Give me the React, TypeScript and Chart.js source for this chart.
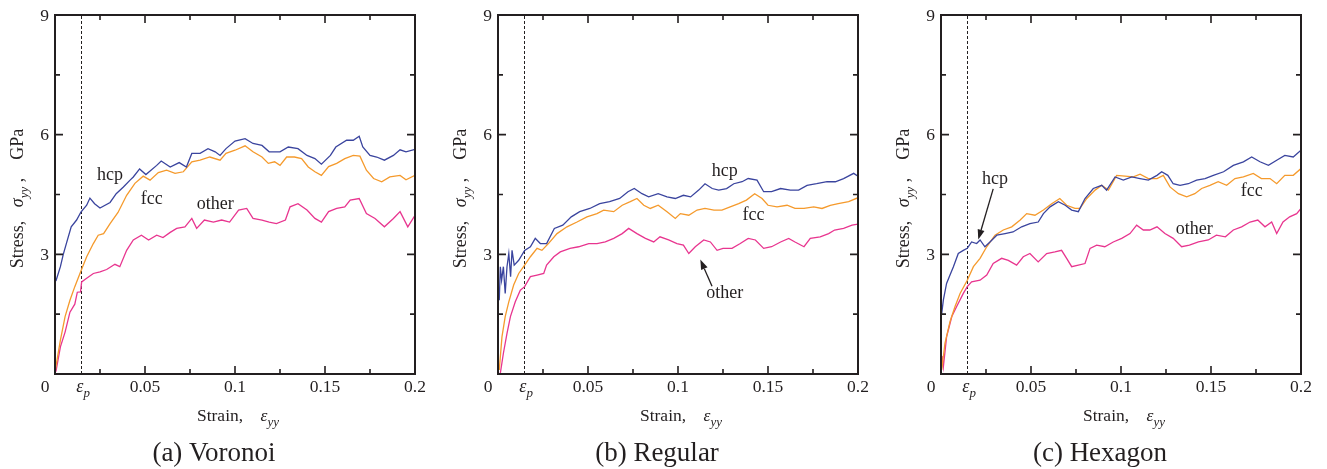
import React, { useEffect, useRef } from "react";
import { Chart, registerables } from "chart.js";
Chart.register(...registerables);

type P = [number, number];

// ---- axes / ticks ----
const xMajorTicks = [0.05, 0.1, 0.15, 0.2];
const xMajorLabels = ["0.05", "0.1", "0.15", "0.2"];
const xMinorTicks = [0.025, 0.075, 0.125, 0.175];
const yMajorTicks = [3, 6, 9];
const yMajorLabels = ["3", "6", "9"];
const yMinorTicks = [1.5, 4.5, 7.5];
const epsP = 0.0145;
const captions = ["(a) Voronoi", "(b) Regular", "(c) Hexagon"];
const seriesNames = ["hcp", "fcc", "other"];
const seriesColors = ["#3a449e", "#f59a2c", "#e8358f"];

// ---- (a) Voronoi ----
const voronoiHcp: P[] = [[0.0005,2.33],[0.003,2.69],[0.0046,3.0],[0.0065,3.3],[0.009,3.69],[0.012,3.86],[0.0144,4.06],[0.0176,4.23],[0.0194,4.41],[0.022,4.27],[0.025,4.16],[0.0306,4.3],[0.034,4.52],[0.038,4.69],[0.0417,4.86],[0.0435,4.94],[0.047,5.14],[0.0505,5.0],[0.0565,5.23],[0.059,5.34],[0.064,5.19],[0.069,5.3],[0.073,5.19],[0.076,5.53],[0.0806,5.53],[0.085,5.65],[0.089,5.57],[0.0917,5.48],[0.095,5.65],[0.100,5.84],[0.1056,5.9],[0.110,5.78],[0.115,5.73],[0.119,5.57],[0.125,5.57],[0.1296,5.69],[0.135,5.65],[0.140,5.48],[0.1444,5.4],[0.148,5.26],[0.153,5.48],[0.156,5.69],[0.162,5.86],[0.1657,5.86],[0.169,5.96],[0.171,5.69],[0.175,5.48],[0.1787,5.44],[0.183,5.36],[0.188,5.48],[0.1917,5.62],[0.195,5.57],[0.2,5.63]];
const voronoiFcc: P[] = [[0,0.05],[0.003,0.85],[0.0056,1.44],[0.0083,1.85],[0.011,2.19],[0.0144,2.58],[0.0176,2.94],[0.0213,3.27],[0.024,3.48],[0.027,3.52],[0.0306,3.77],[0.035,4.05],[0.0398,4.48],[0.0444,4.78],[0.049,4.96],[0.0528,4.86],[0.0574,5.05],[0.062,5.11],[0.0667,5.03],[0.0713,5.07],[0.076,5.32],[0.0806,5.36],[0.086,5.44],[0.0917,5.36],[0.095,5.53],[0.100,5.61],[0.1056,5.72],[0.110,5.57],[0.115,5.44],[0.1185,5.28],[0.122,5.32],[0.125,5.23],[0.1287,5.44],[0.133,5.44],[0.137,5.4],[0.1407,5.19],[0.1444,5.07],[0.148,4.98],[0.152,5.2],[0.1565,5.28],[0.161,5.4],[0.1657,5.48],[0.1694,5.46],[0.173,5.11],[0.177,4.9],[0.1815,4.82],[0.186,4.94],[0.1917,4.98],[0.195,4.87],[0.2,4.98]];
const voronoiOther: P[] = [[0.0005,0.06],[0.003,0.68],[0.0056,1.05],[0.0083,1.55],[0.011,1.75],[0.0124,2.05],[0.0142,2.06],[0.0148,2.31],[0.0176,2.4],[0.0213,2.52],[0.025,2.56],[0.0287,2.62],[0.0333,2.75],[0.036,2.69],[0.0398,3.1],[0.0435,3.36],[0.048,3.48],[0.052,3.36],[0.0565,3.48],[0.060,3.42],[0.064,3.55],[0.0676,3.65],[0.0722,3.69],[0.076,3.9],[0.0787,3.65],[0.083,3.86],[0.088,3.81],[0.0926,3.86],[0.097,3.81],[0.102,4.11],[0.1065,4.15],[0.110,3.9],[0.115,3.86],[0.119,3.81],[0.123,3.77],[0.128,3.86],[0.1306,4.19],[0.135,4.27],[0.140,4.11],[0.1444,3.9],[0.148,3.81],[0.152,4.07],[0.1565,4.15],[0.161,4.19],[0.164,4.36],[0.169,4.4],[0.173,4.02],[0.1778,3.9],[0.183,3.69],[0.188,3.9],[0.1917,4.07],[0.196,3.69],[0.2,3.98]];

// ---- (b) Regular ----
const regularHcp: P[] = [[0.0007,1.85],[0.0013,2.69],[0.002,2.35],[0.003,2.69],[0.004,2.02],[0.005,2.69],[0.006,3.02],[0.007,2.44],[0.0078,3.1],[0.009,2.73],[0.0115,2.85],[0.0148,3.1],[0.018,3.19],[0.0207,3.4],[0.0235,3.27],[0.027,3.27],[0.0313,3.65],[0.036,3.73],[0.0407,3.94],[0.0454,4.07],[0.051,4.15],[0.0565,4.27],[0.062,4.32],[0.0676,4.4],[0.0722,4.57],[0.0757,4.65],[0.08,4.52],[0.0837,4.44],[0.089,4.52],[0.0939,4.44],[0.0985,4.4],[0.103,4.48],[0.107,4.44],[0.1115,4.61],[0.115,4.77],[0.119,4.65],[0.1226,4.61],[0.127,4.65],[0.131,4.77],[0.1356,4.82],[0.139,4.9],[0.1439,4.86],[0.1476,4.57],[0.152,4.57],[0.157,4.65],[0.1624,4.61],[0.167,4.61],[0.1717,4.73],[0.177,4.77],[0.1828,4.82],[0.1874,4.82],[0.192,4.9],[0.1976,5.03],[0.2,4.96]];
const regularFcc: P[] = [[0.0007,0.1],[0.0022,0.93],[0.004,1.44],[0.006,1.81],[0.0087,2.23],[0.0115,2.52],[0.0148,2.73],[0.018,2.94],[0.0217,3.15],[0.0244,3.1],[0.028,3.27],[0.0328,3.52],[0.0383,3.69],[0.0439,3.81],[0.0494,3.94],[0.055,4.02],[0.0587,4.11],[0.0643,4.07],[0.069,4.23],[0.0735,4.32],[0.0772,4.4],[0.081,4.23],[0.0846,4.15],[0.089,4.23],[0.0939,4.07],[0.0985,3.9],[0.1013,4.02],[0.106,3.98],[0.1106,4.11],[0.115,4.15],[0.12,4.11],[0.1244,4.11],[0.129,4.19],[0.1337,4.27],[0.138,4.36],[0.1426,4.52],[0.1467,4.4],[0.15,4.23],[0.155,4.19],[0.1606,4.23],[0.165,4.15],[0.17,4.15],[0.1754,4.19],[0.18,4.15],[0.1846,4.23],[0.189,4.27],[0.1948,4.32],[0.2,4.42]];
const regularOther: P[] = [[0.0013,0.02],[0.003,0.52],[0.005,1.02],[0.0069,1.44],[0.0096,1.81],[0.0124,2.1],[0.0148,2.19],[0.018,2.44],[0.0217,2.48],[0.0254,2.52],[0.027,2.73],[0.031,2.94],[0.0346,3.06],[0.04,3.15],[0.0448,3.19],[0.0504,3.27],[0.055,3.27],[0.0596,3.31],[0.0643,3.4],[0.069,3.52],[0.0726,3.65],[0.0772,3.52],[0.0819,3.4],[0.0865,3.31],[0.09,3.44],[0.0948,3.36],[0.0994,3.27],[0.103,3.23],[0.106,3.02],[0.1096,3.19],[0.1143,3.36],[0.118,3.31],[0.1217,3.1],[0.125,3.15],[0.13,3.15],[0.1346,3.27],[0.139,3.4],[0.143,3.36],[0.1476,3.15],[0.152,3.19],[0.157,3.31],[0.1615,3.4],[0.165,3.31],[0.17,3.19],[0.1735,3.4],[0.179,3.44],[0.1837,3.52],[0.187,3.61],[0.192,3.65],[0.1967,3.73],[0.2,3.76]];

// ---- (c) Hexagon ----
const hexagonHcp: P[] = [[0.0004,1.52],[0.0013,1.85],[0.0031,2.27],[0.005,2.48],[0.0069,2.69],[0.0096,3.02],[0.0124,3.1],[0.0146,3.15],[0.017,3.31],[0.0198,3.27],[0.0217,3.36],[0.0244,3.19],[0.0272,3.31],[0.031,3.48],[0.0356,3.52],[0.04,3.56],[0.0448,3.69],[0.0494,3.77],[0.054,3.81],[0.0569,4.02],[0.0606,4.19],[0.0652,4.32],[0.069,4.23],[0.0726,4.11],[0.0763,4.07],[0.08,4.4],[0.0846,4.65],[0.0893,4.73],[0.092,4.61],[0.0967,4.94],[0.1013,4.86],[0.106,4.94],[0.1106,4.9],[0.1152,4.86],[0.12,4.98],[0.1226,5.07],[0.126,4.98],[0.129,4.77],[0.1328,4.73],[0.1374,4.77],[0.142,4.86],[0.1467,4.9],[0.1513,4.98],[0.157,5.07],[0.1624,5.23],[0.168,5.32],[0.1726,5.44],[0.1772,5.32],[0.1819,5.23],[0.1865,5.36],[0.191,5.48],[0.1957,5.44],[0.2,5.61]];
const hexagonFcc: P[] = [[0.0004,0.1],[0.0022,0.77],[0.005,1.31],[0.0078,1.69],[0.0106,2.02],[0.0146,2.35],[0.018,2.69],[0.0217,2.9],[0.0254,3.19],[0.03,3.48],[0.0346,3.61],[0.0393,3.69],[0.044,3.86],[0.0476,4.02],[0.0522,3.98],[0.0569,4.11],[0.0615,4.27],[0.066,4.4],[0.0698,4.23],[0.0744,4.15],[0.0772,4.15],[0.081,4.4],[0.0856,4.61],[0.0893,4.73],[0.093,4.61],[0.0976,4.98],[0.1022,4.96],[0.1069,4.94],[0.1106,5.01],[0.1152,4.9],[0.12,4.9],[0.1235,4.98],[0.1272,4.69],[0.1319,4.52],[0.1365,4.44],[0.141,4.52],[0.1448,4.65],[0.1494,4.73],[0.154,4.82],[0.1587,4.73],[0.1633,4.9],[0.168,4.94],[0.1735,5.03],[0.178,4.9],[0.1828,4.9],[0.1865,4.77],[0.191,4.98],[0.1957,4.98],[0.2,5.15]];
const hexagonOther: P[] = [[0,0.0],[0.0006,0.45],[0.0013,0.18],[0.0031,0.93],[0.006,1.44],[0.0087,1.69],[0.0124,2.02],[0.0146,2.19],[0.017,2.31],[0.0217,2.35],[0.0254,2.48],[0.029,2.77],[0.0337,2.9],[0.0374,2.85],[0.042,2.73],[0.0457,2.94],[0.0494,3.02],[0.054,2.81],[0.0587,3.02],[0.0633,3.06],[0.067,3.1],[0.0698,2.9],[0.0726,2.69],[0.0763,2.73],[0.08,2.77],[0.0828,3.15],[0.0865,3.23],[0.091,3.19],[0.0957,3.31],[0.1004,3.4],[0.105,3.52],[0.1087,3.73],[0.1124,3.61],[0.116,3.61],[0.12,3.69],[0.1244,3.52],[0.129,3.4],[0.1337,3.19],[0.138,3.23],[0.143,3.31],[0.1485,3.36],[0.153,3.48],[0.158,3.44],[0.1624,3.61],[0.167,3.69],[0.1717,3.81],[0.176,3.86],[0.18,3.69],[0.1837,3.81],[0.1865,3.52],[0.19,3.81],[0.1937,3.94],[0.1976,4.02],[0.2,4.15]];

// in-plot label positions (data units) per panel: [text, x, y]
const voronoiLabels: [string, number, number][] = [["hcp", 0.0306, 4.98], ["fcc", 0.0537, 4.38], ["other", 0.089, 4.26]];
const regularLabels: [string, number, number][] = [["hcp", 0.126, 5.07], ["fcc", 0.142, 3.98], ["other", 0.126, 2.02]];
const hexagonLabels: [string, number, number][] = [["hcp", 0.030, 4.87], ["fcc", 0.1726, 4.59], ["other", 0.1407, 3.62]];
const voronoiArrows: [number, number, number, number][] = [];
const regularArrows: [number, number, number, number][] = [[0.1189, 2.2, 0.1124, 2.87]];
const hexagonArrows: [number, number, number, number][] = [[0.029, 4.64, 0.0207, 3.37]];

const FONT = '"Liberation Serif", "Times New Roman", serif';
const INK = "#231f20";

type Seg = { t: string; it?: boolean; sub?: boolean };

function drawRich(ctx: CanvasRenderingContext2D, segs: Seg[], x: number, y: number, size: number) {
  const fontFor = (s: Seg) => `${s.it ? "italic " : ""}${s.sub ? Math.round(size * 0.72) : size}px ${FONT}`;
  let total = 0;
  const ws = segs.map((s) => {
    ctx.font = fontFor(s);
    const w = ctx.measureText(s.t).width;
    total += w;
    return w;
  });
  let cx = x - total / 2;
  ctx.textAlign = "left";
  ctx.textBaseline = "alphabetic";
  segs.forEach((s, i) => {
    ctx.font = fontFor(s);
    ctx.fillText(s.t, cx, y + (s.sub ? size * 0.28 : 0));
    cx += ws[i];
  });
}

type PanelCfg = {
  left: number;
  width: number;
  pad: { left: number; right: number };
  series: P[][];
  labels: [string, number, number][];
  arrows: [number, number, number, number][];
  caption: string;
};

const panels: PanelCfg[] = [
  { left: 0, width: 440, pad: { left: 55, right: 25 }, series: [voronoiHcp, voronoiFcc, voronoiOther], labels: voronoiLabels, arrows: voronoiArrows, caption: captions[0] },
  { left: 440, width: 440, pad: { left: 58, right: 22 }, series: [regularHcp, regularFcc, regularOther], labels: regularLabels, arrows: regularArrows, caption: captions[1] },
  { left: 880, width: 447, pad: { left: 61, right: 26 }, series: [hexagonHcp, hexagonFcc, hexagonOther], labels: hexagonLabels, arrows: hexagonArrows, caption: captions[2] },
];

function makeDeco(cfg: PanelCfg) {
  return {
    id: "deco",
    beforeDatasetsDraw(chart: any) {
      const { ctx, scales } = chart;
      const x = scales.x, y = scales.y;
      ctx.save();
      ctx.strokeStyle = INK;
      ctx.lineWidth = 1;
      ctx.setLineDash([3, 2]);
      const xp = Math.round(x.getPixelForValue(epsP)) + 0.5;
      ctx.beginPath();
      ctx.moveTo(xp, y.getPixelForValue(0));
      ctx.lineTo(xp, y.getPixelForValue(9));
      ctx.stroke();
      ctx.restore();
    },
    afterDatasetsDraw(chart: any) {
      const { ctx, chartArea: a, scales } = chart;
      const x = scales.x, y = scales.y;
      ctx.save();
      // frame
      ctx.strokeStyle = INK;
      ctx.lineWidth = 2;
      ctx.setLineDash([]);
      ctx.strokeRect(a.left, a.top, a.right - a.left, a.bottom - a.top);
      // ticks
      ctx.lineWidth = 1.6;
      const tick = (vals: number[], len: number, axis: "x" | "y") => {
        vals.forEach((v) => {
          ctx.beginPath();
          if (axis === "x") {
            const p = x.getPixelForValue(v);
            ctx.moveTo(p, a.bottom); ctx.lineTo(p, a.bottom - len);
            ctx.moveTo(p, a.top); ctx.lineTo(p, a.top + len);
          } else {
            const p = y.getPixelForValue(v);
            ctx.moveTo(a.left, p); ctx.lineTo(a.left + len, p);
            ctx.moveTo(a.right, p); ctx.lineTo(a.right - len, p);
          }
          ctx.stroke();
        });
      };
      tick(xMajorTicks, 8, "x");
      tick(xMinorTicks, 5, "x");
      tick(yMajorTicks, 8, "y");
      tick(yMinorTicks, 5, "y");
      // tick labels
      ctx.fillStyle = INK;
      ctx.font = `17.5px ${FONT}`;
      ctx.textBaseline = "alphabetic";
      ctx.textAlign = "center";
      const lblY = a.bottom + 18;
      xMajorTicks.forEach((v, i) => ctx.fillText(xMajorLabels[i], x.getPixelForValue(v), lblY));
      ctx.fillText("0", x.getPixelForValue(0) - 10, lblY);
      drawRich(ctx, [{ t: "ε", it: true }, { t: "p", it: true, sub: true }], x.getPixelForValue(epsP) + 2, lblY, 18);
      ctx.font = `17.5px ${FONT}`;
      ctx.textAlign = "right";
      ctx.textBaseline = "middle";
      yMajorTicks.forEach((v, i) => ctx.fillText(yMajorLabels[i], a.left - 6, y.getPixelForValue(v) + 1));
      // axis titles
      const cxp = (a.left + a.right) / 2;
      drawRich(ctx, [{ t: "Strain,    " }, { t: "ε", it: true }, { t: "yy", it: true, sub: true }], cxp + 3, a.bottom + 47, 17.5);
      ctx.save();
      ctx.translate(a.left - 32, (a.top + a.bottom) / 2 + 4);
      ctx.rotate(-Math.PI / 2);
      drawRich(ctx, [{ t: "Stress,   " }, { t: "σ", it: true }, { t: "yy", it: true, sub: true }, { t: " ,    GPa" }], 0, 0, 18);
      ctx.restore();
      // caption
      ctx.font = `27px ${FONT}`;
      ctx.textAlign = "center";
      ctx.textBaseline = "alphabetic";
      ctx.fillText(cfg.caption, cxp - 21, a.bottom + 87);
      // in-plot labels
      ctx.font = `18px ${FONT}`;
      ctx.textBaseline = "middle";
      cfg.labels.forEach(([t, lx, ly]) => ctx.fillText(t, x.getPixelForValue(lx), y.getPixelForValue(ly)));
      // arrows
      ctx.lineWidth = 1.3;
      cfg.arrows.forEach(([x1, y1, x2, y2]) => {
        const p1x = x.getPixelForValue(x1), p1y = y.getPixelForValue(y1);
        const p2x = x.getPixelForValue(x2), p2y = y.getPixelForValue(y2);
        const ang = Math.atan2(p2y - p1y, p2x - p1x);
        const hl = 10, hw = 3.5;
        const bx = p2x - hl * Math.cos(ang), by = p2y - hl * Math.sin(ang);
        ctx.beginPath();
        ctx.moveTo(p1x, p1y);
        ctx.lineTo(bx, by);
        ctx.stroke();
        ctx.beginPath();
        ctx.moveTo(p2x, p2y);
        ctx.lineTo(bx + hw * Math.sin(ang), by - hw * Math.cos(ang));
        ctx.lineTo(bx - hw * Math.sin(ang), by + hw * Math.cos(ang));
        ctx.closePath();
        ctx.fill();
      });
      ctx.restore();
    },
  };
}

function Panel({ cfg }: { cfg: PanelCfg }) {
  const ref = useRef<HTMLCanvasElement>(null);
  useEffect(() => {
    const chart = new Chart(ref.current as HTMLCanvasElement, {
      type: "line",
      data: {
        datasets: cfg.series.map((s, i) => ({
          label: seriesNames[i],
          data: s.map(([px, py]) => ({ x: px, y: py })),
          borderColor: seriesColors[i],
          borderWidth: 1.3,
          pointRadius: 0,
          tension: 0,
          fill: false,
        })),
      },
      options: {
        responsive: false,
        animation: false,
        devicePixelRatio: 1,
        layout: { padding: { left: cfg.pad.left, right: cfg.pad.right, top: 15, bottom: 95 } },
        scales: {
          x: { type: "linear", min: 0, max: 0.2, display: false },
          y: { type: "linear", min: 0, max: 9, display: false },
        },
        plugins: { legend: { display: false }, tooltip: { enabled: false }, title: { display: false } },
      },
      plugins: [makeDeco(cfg)],
    } as any);
    return () => chart.destroy();
  }, [cfg]);
  return (
    <canvas
      ref={ref}
      width={cfg.width}
      height={469}
      style={{ position: "absolute", left: cfg.left, top: 0, width: cfg.width, height: 469 }}
    />
  );
}

export default function App() {
  return (
    <div style={{ position: "absolute", left: 0, top: 0, width: 1327, height: 469, background: "#fff", overflow: "hidden" }}>
      {panels.map((p, i) => (
        <Panel key={i} cfg={p} />
      ))}
    </div>
  );
}
